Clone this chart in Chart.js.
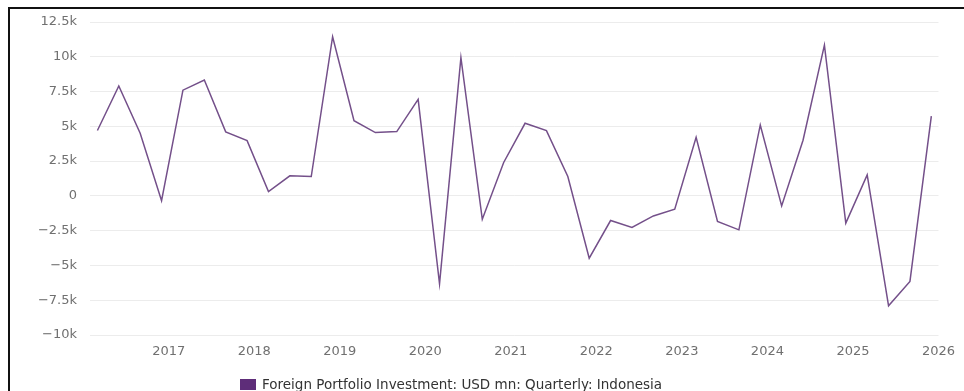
<!DOCTYPE html>
<html>
<head>
<meta charset="utf-8">
<script src="https://cdn.jsdelivr.net/npm/chart.js@4"></script>
<style>
    html, body {
        margin: 0;
        padding: 0;
        background: #ffffff;
        overflow: hidden;
    }
    #wrap {
        position: relative;
        width: 964px;
        height: 391px;
    }
    #frame {
        position: absolute;
        left: 8px;
        top: 7px;
        right: 0;
        bottom: 0;
        border-left: 2px solid #111;
        border-top: 2px solid #111;
    }
    #chart {
        position: absolute;
        left: 0;
        top: 0;
    }
    #legend {
        position: absolute;
        left: 240px;
        top: 376px;
        font-family: "DejaVu Sans", sans-serif;
        font-size: 13.5px;
        color: #333333;
        white-space: nowrap;
        display: flex;
        align-items: center;
    }
    #legend .box {
        width: 16px;
        height: 11px;
        background: #5e2d79;
        margin-right: 6px;
    }
</style>
</head>
<body>
<div id="wrap">
    <div id="frame"></div>
    <canvas id="chart" width="964" height="391"></canvas>
    <div id="legend"><span class="box"></span><span>Foreign Portfolio Investment: USD mn: Quarterly: Indonesia</span></div>
</div>
<script>
// quarters (year, quarter) of the series
const quarters = [
    "2016 Q1", "2016 Q2", "2016 Q3", "2016 Q4",
    "2017 Q1", "2017 Q2", "2017 Q3", "2017 Q4",
    "2018 Q1", "2018 Q2", "2018 Q3", "2018 Q4",
    "2019 Q1", "2019 Q2", "2019 Q3", "2019 Q4",
    "2020 Q1", "2020 Q2", "2020 Q3", "2020 Q4",
    "2021 Q1", "2021 Q2", "2021 Q3", "2021 Q4",
    "2022 Q1", "2022 Q2", "2022 Q3", "2022 Q4",
    "2023 Q1", "2023 Q2", "2023 Q3", "2023 Q4",
    "2024 Q1", "2024 Q2", "2024 Q3", "2024 Q4",
    "2025 Q1", "2025 Q2", "2025 Q3", "2025 Q4"
];

// foreign portfolio investment, USD mn
const investment = [
    4700, 7900, 4500, -340,
    7600, 8330, 4600, 3970,
    310, 1440, 1390, 11440,
    5410, 4550, 4620, 6940,
    -6320, 9930, -1680, 2400,
    5220, 4690, 1390, -4480,
    -1770, -2270, -1440, -960,
    4210, -1840, -2440, 5100,
    -720, 4000, 10840, -1960,
    1510, -7900, -6150, 5740
];

// axis ticks
const yearTicks = [2017, 2018, 2019, 2020, 2021, 2022, 2023, 2024, 2025, 2026];
const valueTicks = [-10000, -7500, -5000, -2500, 0, 2500, 5000, 7500, 10000, 12500];

// quarter label -> decimal year (dated at the quarter's last month)
function quarterToYear(label) {
    const parts = label.split(" Q");
    const year = parseInt(parts[0]);
    const month = parseInt(parts[1]) * 3;
    return year + (month - 1) / 12;
}

const points = quarters.map((q, i) => ({ x: quarterToYear(q), y: investment[i] }));

// 12500 -> 12.5k, negatives with a real minus sign
function formatValue(v) {
    if (v === 0) {
        return "0";
    }
    const s = (Math.abs(v) / 1000) + "k";
    return v < 0 ? "\u2212" + s : s;
}

const labelFont = { family: "DejaVu Sans", size: 13 };

new Chart(document.getElementById("chart"), {
    type: "line",
    data: {
        datasets: [
            {
                label: "Foreign Portfolio Investment: USD mn: Quarterly: Indonesia",
                data: points,
                borderColor: "#74508a",
                borderWidth: 1.5,
                pointRadius: 0,
                tension: 0,
                fill: false
            }
        ]
    },
    options: {
        responsive: false,
        animation: false,
        layout: {
            padding: { top: 22, left: 10, right: 22, bottom: 30 }
        },
        plugins: {
            legend: { display: false },
            tooltip: { enabled: false }
        },
        scales: {
            x: {
                type: "linear",
                min: 2016.08,
                max: 2026,
                afterBuildTicks: (scale) => {
                    scale.ticks = yearTicks.map((v) => ({ value: v }));
                },
                afterFit: (scale) => {
                    scale.height = 26;
                },
                grid: { display: false, drawTicks: false },
                border: { display: false },
                ticks: {
                    font: labelFont,
                    color: "#707070",
                    padding: 9,
                    maxRotation: 0,
                    callback: (v) => String(v)
                }
            },
            y: {
                min: -10000,
                max: 12500,
                afterBuildTicks: (scale) => {
                    scale.ticks = valueTicks.map((v) => ({ value: v }));
                },
                afterFit: (scale) => {
                    scale.width = 80;
                },
                grid: { color: "#ececec", lineWidth: 1, drawTicks: false },
                border: { display: false },
                ticks: {
                    font: labelFont,
                    color: "#707070",
                    padding: 13,
                    callback: (v) => formatValue(v)
                }
            }
        }
    }
});
</script>
</body>
</html>
